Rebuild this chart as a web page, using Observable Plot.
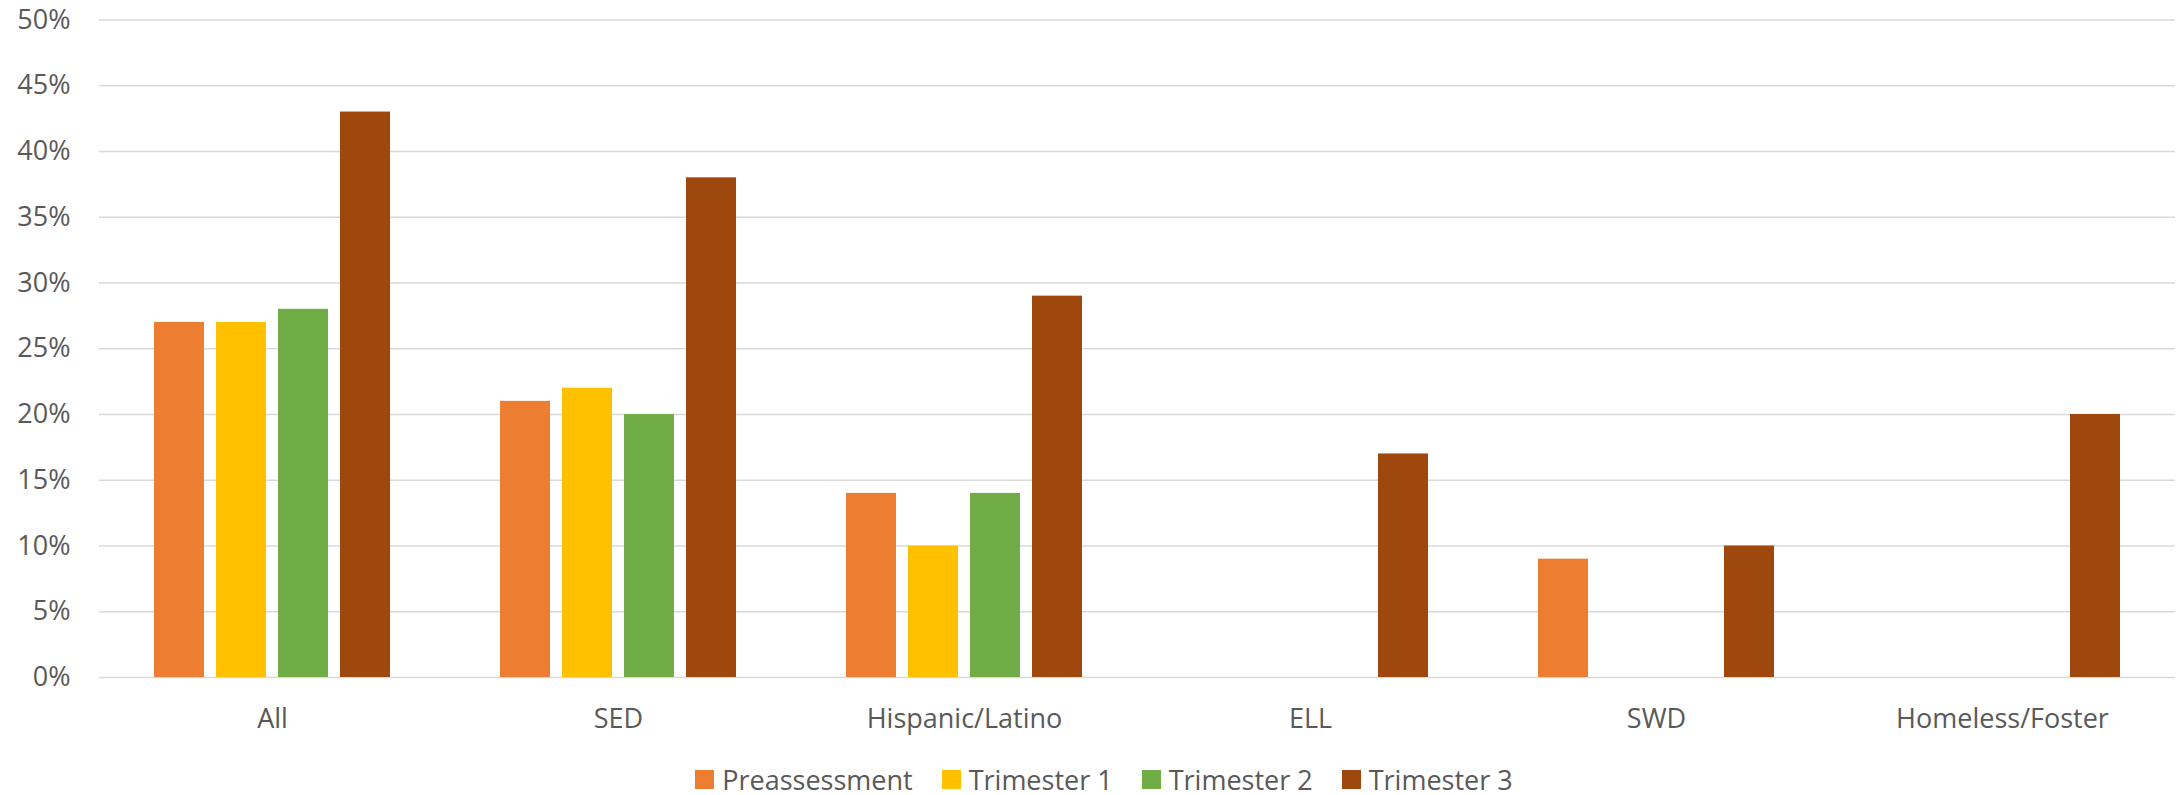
<!DOCTYPE html>
<html>
<head>
<meta charset="utf-8">
<script src="https://cdn.jsdelivr.net/npm/d3@7"></script>
<script src="https://cdn.jsdelivr.net/npm/@observablehq/plot@0.6"></script>
<style>
  html, body { margin: 0; padding: 0; background: #fff; }
  #wrap { position: relative; width: 2178px; height: 795px; font-family: "Open Sans", sans-serif; color: #595959; }
  #legend { position: absolute; left: 0; top: 760px; width: 2178px; height: 38px; display: flex; justify-content: center; align-items: center; box-sizing: border-box; padding-left: 30px; font-size: 27px; }
  .item { display: flex; align-items: center; margin: 0 14.5px; }
  .sw { width: 19px; height: 19px; margin-right: 8px; }
</style>
</head>
<body>
<div id="wrap"><div id="chart"></div><div id="legend"></div></div>
<script>
const categories = ["All", "SED", "Hispanic/Latino", "ELL", "SWD", "Homeless/Foster"];
const seriesNames = ["Preassessment", "Trimester 1", "Trimester 2", "Trimester 3"];
const preassessment = [0.27, 0.21, 0.14, null, 0.09, null];
const trimester1 = [0.27, 0.22, 0.10, null, null, null];
const trimester2 = [0.28, 0.20, 0.14, null, null, null];
const trimester3 = [0.43, 0.38, 0.29, 0.17, 0.10, 0.20];
const colors = ["#ED7D31", "#FFC000", "#70AD47", "#9E480E"];
const yTicks = [0, 0.05, 0.10, 0.15, 0.20, 0.25, 0.30, 0.35, 0.40, 0.45, 0.50];

const seriesValues = [preassessment, trimester1, trimester2, trimester3];
const rows = [];
seriesValues.forEach((vals, si) => {
  vals.forEach((v, ci) => {
    if (v != null) rows.push({group: categories[ci], series: seriesNames[si], value: v});
  });
});

const chart = Plot.plot({
  width: 2178,
  height: 760,
  marginTop: 19.5,
  marginBottom: 83,
  marginLeft: 98,
  marginRight: 2,
  style: {fontFamily: "Open Sans, sans-serif", fontSize: "27px", color: "#595959", background: "#fff"},
  fx: {domain: categories, padding: 0, paddingInner: 0, paddingOuter: 0, axis: "bottom", tickSize: 0, tickPadding: 31, label: null},
  x: {domain: seriesNames, paddingInner: 0.2, paddingOuter: 0.86, axis: null},
  y: {domain: [0, 0.5], ticks: yTicks, tickFormat: d3.format(".0%"), tickSize: 0, tickPadding: 29, label: null},
  color: {domain: seriesNames, range: colors},
  marks: [
    Plot.ruleY(yTicks, {stroke: "#d9d9d9", strokeWidth: 1.33}),
    Plot.barY(rows, {fx: "group", x: "series", y: "value", fill: "series"})
  ]
});
document.getElementById("chart").appendChild(chart);

const legend = document.getElementById("legend");
seriesNames.forEach((name, i) => {
  const it = document.createElement("div");
  it.className = "item";
  const sw = document.createElement("div");
  sw.className = "sw";
  sw.style.background = colors[i];
  const t = document.createElement("span");
  t.textContent = name;
  it.appendChild(sw);
  it.appendChild(t);
  legend.appendChild(it);
});
</script>
</body>
</html>
